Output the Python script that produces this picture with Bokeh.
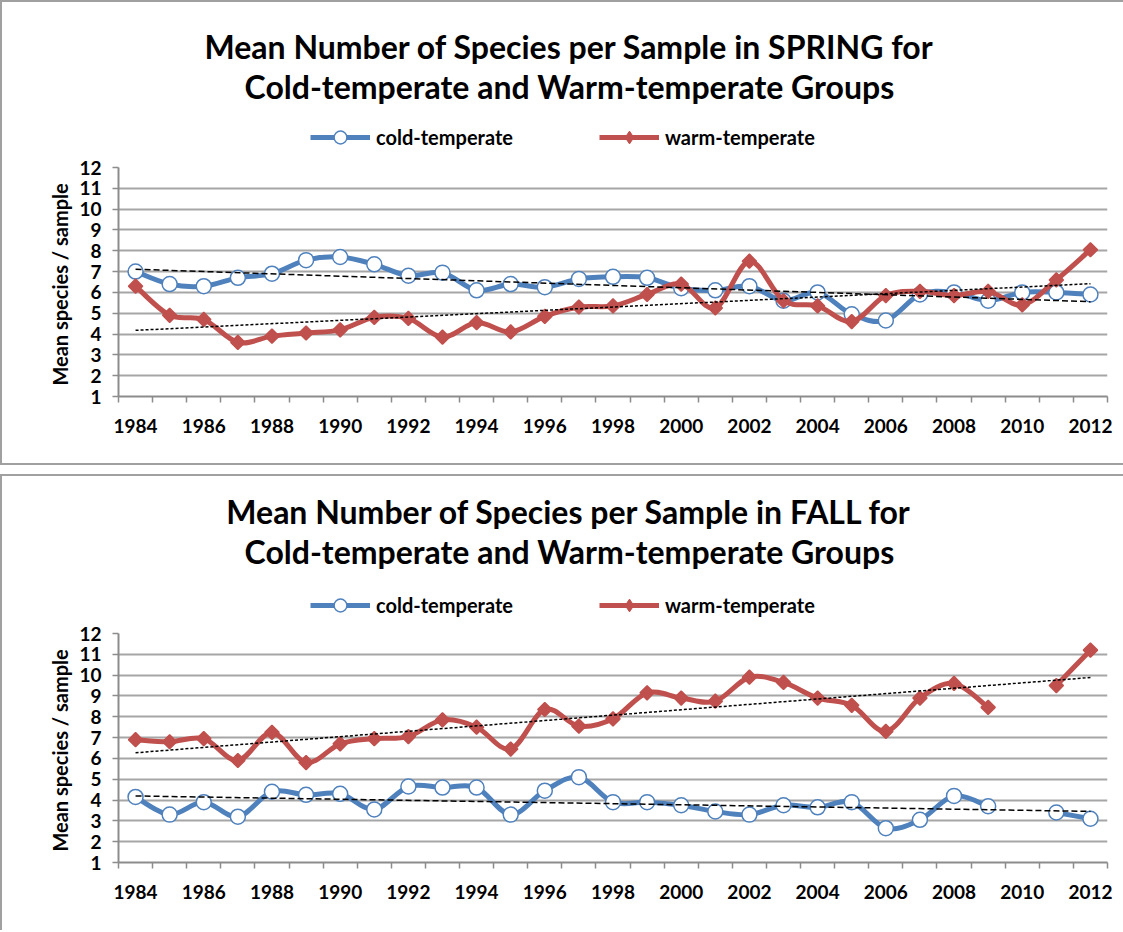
import math
import numpy as np
from bokeh.plotting import figure
from bokeh.models import Range1d, FixedTicker, Label, Legend, LegendItem, ColumnDataSource
from bokeh.layouts import column
from bokeh.embed import file_html
from bokeh.resources import INLINE

nan = float("nan")

years = list(range(1984, 2013))
tick_years = list(range(1984, 2013, 2))
y_ticks = list(range(1, 13))

spring_cold = [7.0, 6.4, 6.3, 6.7, 6.9, 7.55, 7.7, 7.35, 6.8, 6.95, 6.1, 6.4, 6.25, 6.65,
               6.75, 6.7, 6.2, 6.1, 6.3, 5.6, 6.0, 4.95, 4.65, 5.9, 6.0, 5.6, 6.0, 6.0, 5.9]
spring_warm = [6.3, 4.9, 4.7, 3.6, 3.9, 4.05, 4.2, 4.8, 4.75, 3.85, 4.55, 4.1, 4.85, 5.3,
               5.35, 5.9, 6.4, 5.25, 7.5, 5.6, 5.35, 4.6, 5.85, 6.05, 5.85, 6.05, 5.4, 6.6, 8.05]
fall_cold = [4.15, 3.3, 3.9, 3.2, 4.4, 4.25, 4.3, 3.55, 4.65, 4.6, 4.6, 3.3, 4.45, 5.1,
             3.9, 3.9, 3.75, 3.45, 3.3, 3.75, 3.65, 3.9, 2.65, 3.05, 4.2, 3.7, nan, 3.4, 3.1]
fall_warm = [6.9, 6.8, 6.95, 5.9, 7.25, 5.8, 6.7, 6.95, 7.05, 7.85, 7.5, 6.45, 8.35, 7.55,
             7.9, 9.15, 8.9, 8.75, 9.9, 9.65, 8.9, 8.55, 7.3, 8.9, 9.6, 8.45, nan, 9.5, 11.2]

spring_title = ["Mean Number of Species per Sample in SPRING for",
                "Cold-temperate and Warm-temperate Groups"]
fall_title = ["Mean Number of Species per Sample in FALL for",
              "Cold-temperate and Warm-temperate Groups"]
series_names = ["cold-temperate", "warm-temperate"]
y_label = "Mean species  / sample"

BLUE = "#4F81BD"
RED = "#C0504D"
GRAY = "#8c8c8c"
GRID = "#a6a6a6"
BOX = "2px solid #a0a0a0"
FONT = "Lato"
W = 1121


def segments(xs, ys):
    segs, cur = [], []
    for x, y in zip(xs, ys):
        if math.isnan(y):
            if cur:
                segs.append(cur)
            cur = []
        else:
            cur.append((x, y))
    if cur:
        segs.append(cur)
    return segs


def bezier_source(xs, ys):
    d = {k: [] for k in ["x0", "y0", "x1", "y1", "cx0", "cy0", "cx1", "cy1"]}
    for seg in segments(xs, ys):
        n = len(seg)
        for i in range(n - 1):
            p0 = seg[i]
            p1 = seg[i + 1]
            pm = seg[i - 1] if i > 0 else p0
            pn = seg[i + 2] if i + 2 < n else p1
            d["x0"].append(p0[0]); d["y0"].append(p0[1])
            d["x1"].append(p1[0]); d["y1"].append(p1[1])
            d["cx0"].append(p0[0] + (p1[0] - pm[0]) / 6.0)
            d["cy0"].append(p0[1] + (p1[1] - pm[1]) / 6.0)
            d["cx1"].append(p1[0] - (pn[0] - p0[0]) / 6.0)
            d["cy1"].append(p1[1] - (pn[1] - p0[1]) / 6.0)
    return ColumnDataSource(d)


def trend(xs, ys):
    pts = [(x, y) for x, y in zip(xs, ys) if not math.isnan(y)]
    px = np.array([p[0] for p in pts], dtype=float)
    py = np.array([p[1] for p in pts], dtype=float)
    m, b = np.polyfit(px, py, 1)
    x_end = [xs[0], xs[-1]]
    return x_end, [m * x + b for x in x_end]


def make_header(title_lines, height, title_y, legend_y):
    h = figure(width=W, height=height, title=None, x_axis_type=None, y_axis_type=None,
               x_range=Range1d(0, 1), y_range=Range1d(0, 1),
               output_backend="svg", toolbar_location=None,
               min_border_left=0, min_border_right=0, min_border_top=0, min_border_bottom=0)
    h.outline_line_color = None
    h.background_fill_color = "white"
    h.border_fill_color = "white"
    for i, t in enumerate(title_lines):
        h.add_layout(Label(x=451, y=title_y[i], x_units="screen", y_units="screen", text=t,
                           text_align="center", text_baseline="middle", text_font=FONT,
                           text_font_style="bold", text_font_size="32px", text_color="black"))
    # legend sample glyphs (no data drawn)
    lc = h.line(x=[nan], y=[nan], line_color=BLUE, line_width=5)
    sc = h.scatter(x=[nan], y=[nan], marker="circle", size=14, fill_color="white",
                   line_color=BLUE, line_width=1.5)
    lw = h.line(x=[nan], y=[nan], line_color=RED, line_width=5)
    sw = h.scatter(x=[nan], y=[nan], marker="diamond", size=16, fill_color=RED,
                   line_color=RED, line_width=1)
    legend = Legend(items=[LegendItem(label=series_names[0], renderers=[lc, sc]),
                           LegendItem(label=series_names[1], renderers=[lw, sw])],
                    orientation="horizontal", location=(192, legend_y),
                    glyph_width=60, glyph_height=32, label_standoff=6, spacing=86,
                    padding=0, margin=0, border_line_color=None, background_fill_alpha=0,
                    label_text_font=FONT, label_text_font_style="bold",
                    label_text_font_size="20px", label_text_color="black")
    h.add_layout(legend)
    return h


def make_main(cold, warm, height, mb_top, mb_bottom):
    p = figure(width=W, height=height, title=None,
               x_range=Range1d(1983.5, 2012.5), y_range=Range1d(y_ticks[0], y_ticks[-1]),
               output_backend="svg", toolbar_location=None,
               min_border_left=116, min_border_right=16,
               min_border_top=mb_top, min_border_bottom=mb_bottom)
    p.outline_line_color = None
    p.background_fill_color = "white"
    p.border_fill_color = "white"

    p.xgrid.visible = False
    p.ygrid.ticker = FixedTicker(ticks=y_ticks)
    p.ygrid.grid_line_color = GRID
    p.ygrid.grid_line_width = 2

    xa = p.xaxis[0]
    xa.ticker = FixedTicker(ticks=tick_years,
                            minor_ticks=[y - 0.5 for y in years] + [years[-1] + 0.5])
    xa.major_tick_out = 0
    xa.major_tick_in = 0
    xa.minor_tick_out = 6
    xa.minor_tick_in = 0
    xa.minor_tick_line_color = GRAY
    xa.minor_tick_line_width = 1.5
    xa.axis_line_color = GRAY
    xa.axis_line_width = 2
    xa.major_label_text_font = FONT
    xa.major_label_text_font_style = "bold"
    xa.major_label_text_font_size = "19px"
    xa.major_label_text_color = "black"
    xa.major_label_standoff = 16

    ya = p.yaxis[0]
    ya.ticker = FixedTicker(ticks=y_ticks)
    ya.major_tick_out = 6
    ya.major_tick_in = 0
    ya.minor_tick_out = 0
    ya.minor_tick_in = 0
    ya.major_tick_line_color = GRAY
    ya.major_tick_line_width = 1.5
    ya.axis_line_color = GRAY
    ya.axis_line_width = 2
    ya.major_label_text_font = FONT
    ya.major_label_text_font_style = "bold"
    ya.major_label_text_font_size = "19px"
    ya.major_label_text_color = "black"
    ya.major_label_standoff = 11
    ya.axis_label = y_label
    ya.axis_label_text_font = FONT
    ya.axis_label_text_font_style = "bold"
    ya.axis_label_text_font_size = "20px"
    ya.axis_label_text_color = "black"
    ya.axis_label_standoff = 4

    # cold series
    p.bezier(x0="x0", y0="y0", x1="x1", y1="y1", cx0="cx0", cy0="cy0", cx1="cx1", cy1="cy1",
             source=bezier_source(years, cold), line_color=BLUE, line_width=5, line_cap="round")
    cx = [x for x, y in zip(years, cold) if not math.isnan(y)]
    cy = [y for y in cold if not math.isnan(y)]
    p.scatter(cx, cy, marker="circle", size=15, fill_color="white",
              line_color=BLUE, line_width=1.5)

    # warm series
    p.bezier(x0="x0", y0="y0", x1="x1", y1="y1", cx0="cx0", cy0="cy0", cx1="cx1", cy1="cy1",
             source=bezier_source(years, warm), line_color=RED, line_width=5, line_cap="round")
    wx = [x for x, y in zip(years, warm) if not math.isnan(y)]
    wy = [y for y in warm if not math.isnan(y)]
    p.scatter(wx, wy, marker="square", angle=math.pi / 4, size=10, fill_color=RED,
              line_color=RED, line_width=1.5)

    # linear trend lines
    tx, ty = trend(years, cold)
    p.line(tx, ty, line_color="black", line_width=1.5, line_dash="6 3")
    tx, ty = trend(years, warm)
    p.line(tx, ty, line_color="black", line_width=1.5, line_dash="3 2")
    return p


h1 = make_header(spring_title, 155, [111, 71], 4)
m1 = make_main(spring_cold, spring_warm, 306, 10, 67)
chart1 = column(h1, m1, spacing=0,
                styles={"border-left": BOX, "border-top": BOX, "border-bottom": BOX})

h2 = make_header(fall_title, 147, [112, 72], 2)
m2 = make_main(fall_cold, fall_warm, 307, 10, 68)
chart2 = column(h2, m2, spacing=0, styles={"border-left": BOX, "border-top": BOX})

layout = column(chart1, chart2, spacing=9)
open("out.html", "w").write(file_html(layout, INLINE))
